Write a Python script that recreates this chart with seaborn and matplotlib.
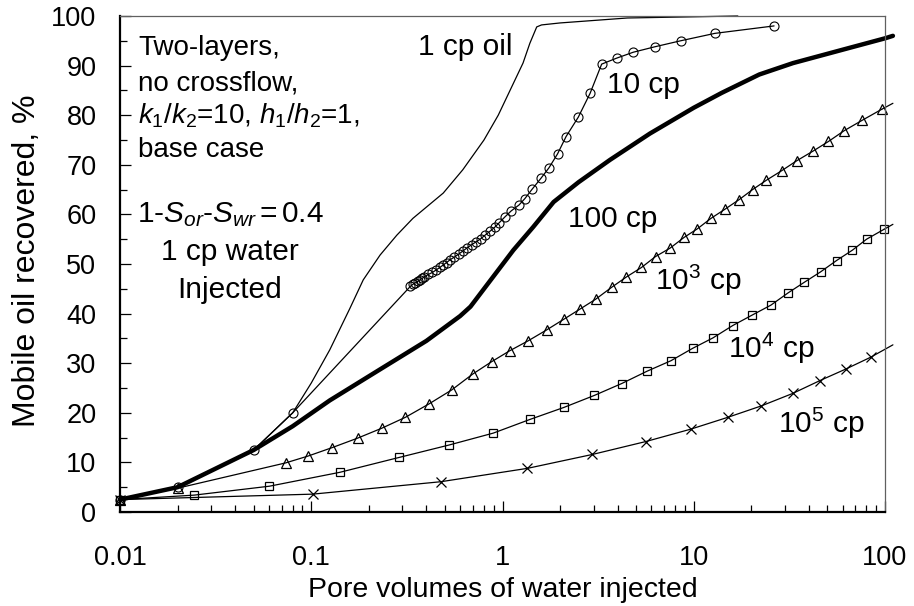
import numpy as np
import pandas as pd
import matplotlib
matplotlib.use("Agg")
import matplotlib.pyplot as plt
import seaborn as sns
from matplotlib.ticker import LogLocator, MultipleLocator, FixedLocator

# ---------------- data ----------------
pv_1cp = [0.01, 0.02, 0.05, 0.08, 0.1, 0.125, 0.159, 0.187, 0.229, 0.28, 0.34,
          0.49, 0.62, 0.8, 0.95, 1.28, 1.39, 1.51, 1.6, 2.0, 4.5, 17.0]
rec_1cp = [2.5, 5.0, 12.5, 20.0, 26.0, 32.7, 41.0, 46.8, 51.8, 55.8, 59.2,
           64.3, 69.0, 75.0, 80.0, 90.5, 94.5, 97.8, 98.2, 98.6, 99.6, 100.0]

pv_10cp = [0.01, 0.02, 0.05, 0.08, 0.33, 0.34, 0.35, 0.36, 0.37, 0.38, 0.39,
           0.41, 0.43, 0.45, 0.47, 0.49, 0.51, 0.53, 0.56, 0.59, 0.62, 0.65,
           0.69, 0.73, 0.77, 0.81, 0.86, 0.91, 0.96, 1.03, 1.11, 1.22, 1.31,
           1.43, 1.59, 1.75, 1.94, 2.15, 2.49, 2.87, 3.3, 3.95, 4.83, 6.27,
           8.53, 12.9, 26.3]
rec_10cp = [2.5, 5.0, 12.5, 20.0, 45.5, 45.9, 46.2, 46.5, 46.8, 47.1, 47.4,
            47.9, 48.3, 48.8, 49.3, 49.8, 50.3, 50.8, 51.4, 52.0, 52.6, 53.2,
            53.9, 54.5, 55.1, 55.8, 56.6, 57.4, 58.3, 59.5, 60.7, 61.9, 63.2,
            65.1, 67.3, 69.4, 72.2, 75.7, 79.6, 84.4, 90.3, 91.5, 92.7, 93.8,
            95.0, 96.5, 98.0]

pv_100cp = [0.01, 0.02, 0.05, 0.08, 0.125, 0.23, 0.4, 0.6, 0.68, 1.14, 1.45,
            1.85, 2.5, 3.65, 5.9, 10.0, 14.0, 22.0, 33.0, 60.0, 100.0, 110.0]
rec_100cp = [2.5, 5.0, 12.5, 17.3, 22.5, 28.8, 34.5, 39.5, 41.4, 52.8, 57.5,
             62.5, 66.5, 71.0, 76.3, 81.5, 84.5, 88.2, 90.5, 93.2, 95.5, 96.0]

pv_1e3 = [0.01, 0.02, 0.0735, 0.0966, 0.129, 0.175, 0.234, 0.311, 0.413, 0.542,
          0.698, 0.877, 1.09, 1.36, 1.7, 2.1, 2.54, 3.07, 3.72, 4.45, 5.33,
          6.31, 7.52, 8.93, 10.45, 12.3, 14.5, 17.3, 20.3, 24.0, 28.8, 34.5,
          42.2, 50.6, 61.3, 76.2, 96.2]
rec_1e3 = [2.5, 4.8, 9.9, 11.3, 13.0, 14.9, 16.9, 19.1, 21.8, 24.6,
           27.8, 30.3, 32.5, 34.5, 36.7, 38.9, 40.9, 42.9, 45.3, 47.4, 49.3,
           51.5, 53.2, 55.4, 57.1, 59.2, 61.0, 63.0, 65.0, 66.9, 68.8, 70.8,
           72.8, 74.7, 76.9, 79.0, 81.2]
pv_1e3_end, rec_1e3_end = [96.2, 110.0], [81.2, 82.4]

pv_1e4 = [0.01, 0.0244, 0.0604, 0.141, 0.288, 0.525, 0.894, 1.4, 2.1, 3.02,
          4.2, 5.71, 7.6, 9.87, 12.6, 16.0, 20.2, 25.3, 31.2, 37.8, 46.0,
          55.8, 67.6, 80.1, 98.9]
rec_1e4 = [2.5, 3.4, 5.2, 8.0, 11.0, 13.5, 15.9, 18.7, 21.1, 23.5,
           25.9, 28.4, 30.5, 33.0, 35.1, 37.6, 39.7, 41.7, 44.2, 46.3, 48.4,
           50.7, 52.8, 55.0, 57.0]
pv_1e4_end, rec_1e4_end = [98.9, 110.0], [57.0, 58.0]

pv_1e5 = [0.01, 0.1017, 0.475, 1.35, 2.95, 5.61, 9.64, 15.1, 22.6, 32.9,
          45.7, 62.2, 84.1]
rec_1e5 = [2.5, 3.6, 6.1, 8.8, 11.6, 14.2, 16.7, 19.1, 21.4, 23.9,
           26.5, 28.8, 31.2]
pv_1e5_end, rec_1e5_end = [84.1, 110.0], [31.2, 33.7]

y_ticks = [0, 10, 20, 30, 40, 50, 60, 70, 80, 90, 100]
x_ticks = [0.01, 0.1, 1, 10, 100]
x_ticklabels = ["0.01", "0.1", "1", "10", "100"]

# ---------------- style ----------------
sns.set_theme(style="ticks")
plt.rcParams["font.family"] = ["Liberation Sans", "DejaVu Sans"]
plt.rcParams["mathtext.fontset"] = "custom"
plt.rcParams["mathtext.rm"] = "Liberation Sans"
plt.rcParams["mathtext.it"] = "Liberation Sans:italic"
plt.rcParams["mathtext.bf"] = "Liberation Sans:bold"

FS_TICK = 19.5
FS_NOTE = 20
FS_LAB = 21.5

fig = plt.figure(figsize=(9.14, 6.06), dpi=100)
ax = fig.add_axes([120 / 914, 94 / 606, 765 / 914, 496 / 606])
ax.set_facecolor("white")

thin = dict(color="black", linewidth=0.9, clip_on=False, estimator=None)

sns.lineplot(x=pv_1cp, y=rec_1cp, ax=ax, **thin)
sns.lineplot(x=pv_100cp, y=rec_100cp, ax=ax, color="black", linewidth=3.2,
             clip_on=False, estimator=None)
sns.lineplot(x=pv_10cp, y=rec_10cp, ax=ax, marker="o", markersize=6.5,
             markerfacecolor="none", markeredgecolor="black",
             markeredgewidth=0.8, **thin)
sns.lineplot(x=pv_1e3, y=rec_1e3, ax=ax, marker="^", markersize=7,
             markerfacecolor="none", markeredgecolor="black",
             markeredgewidth=0.9, **thin)
sns.lineplot(x=pv_1e3_end, y=rec_1e3_end, ax=ax, **thin)
sns.lineplot(x=pv_1e4, y=rec_1e4, ax=ax, marker="s", markersize=5.5,
             markerfacecolor="none", markeredgecolor="black",
             markeredgewidth=0.9, **thin)
sns.lineplot(x=pv_1e4_end, y=rec_1e4_end, ax=ax, **thin)
sns.lineplot(x=pv_1e5, y=rec_1e5, ax=ax, marker="x", markersize=7,
             markeredgecolor="black", markeredgewidth=0.9, **thin)
sns.lineplot(x=pv_1e5_end, y=rec_1e5_end, ax=ax, **thin)

ax.set_xscale("log")
ax.set_xlim(0.01, 100)
ax.set_ylim(0, 100)

ax.xaxis.set_major_locator(FixedLocator(x_ticks))
ax.set_xticklabels(x_ticklabels)
ax.xaxis.set_minor_locator(LogLocator(base=10, subs=np.arange(2, 10)))
ax.xaxis.set_minor_formatter(plt.NullFormatter())
ax.set_yticks(y_ticks)
ax.yaxis.set_minor_locator(MultipleLocator(5))

ax.tick_params(axis="both", which="major", direction="in", length=8,
               width=0.9, color="black", labelsize=FS_TICK, labelcolor="black")
ax.tick_params(axis="both", which="minor", direction="in", length=5,
               width=0.9, color="black")
ax.tick_params(axis="x", which="major", pad=24)
ax.tick_params(axis="y", which="major", pad=17)

for s in ["left", "bottom"]:
    ax.spines[s].set_color("black")
    ax.spines[s].set_linewidth(1.6)
for s in ["top", "right"]:
    ax.spines[s].set_color("#606060")
    ax.spines[s].set_linewidth(0.9)
    ax.spines[s].set_visible(True)

ax.set_xlabel("Pore volumes of water injected", fontsize=20.5, color="black")
ax.set_ylabel("Mobile oil recovered, %", fontsize=23, color="black")
ax.xaxis.set_label_coords(0.5, -0.131)
ax.yaxis.set_label_coords(-0.1014, 0.507)

# ---------------- annotations ----------------
tx = dict(transform=ax.transAxes, color="black", va="baseline")
ax.text(0.0235, 0.9214, "Two-layers,", ha="left", fontsize=FS_NOTE, **tx)
ax.text(0.0235, 0.8508, "no crossflow,", ha="left", fontsize=FS_NOTE, **tx)
ax.text(0.0235, 0.7837, r"$k_1$/$k_2$=10, $h_1$/$h_2$=1,", ha="left",
        fontsize=FS_NOTE, **tx)
ax.text(0.0235, 0.7157, "base case", ha="left", fontsize=FS_NOTE, **tx)
ax.text(0.1438, 0.5833, r"1-$S_{or}$-$S_{wr}$$\,$=$\,$0.4", ha="center",
        fontsize=FS_LAB, **tx)
ax.text(0.1438, 0.508, "1 cp water", ha="center", fontsize=FS_LAB, **tx)
ax.text(0.1438, 0.432, "Injected", ha="center", fontsize=FS_LAB, **tx)

ax.text(0.390, 0.9214, "1 cp oil", ha="left", fontsize=FS_LAB, **tx)
ax.text(0.6362, 0.8454, "10 cp", ha="left", fontsize=FS_LAB, **tx)
ax.text(0.586, 0.5752, "100 cp", ha="left", fontsize=FS_LAB, **tx)
ax.text(0.6993, 0.4476, r"10$^3$ cp", ha="left", fontsize=FS_LAB, **tx)
ax.text(0.7952, 0.310, r"10$^4$ cp", ha="left", fontsize=FS_LAB, **tx)
ax.text(0.8606, 0.1587, r"10$^5$ cp", ha="left", fontsize=FS_LAB, **tx)

fig.savefig("out.png", dpi=100, facecolor="white")
